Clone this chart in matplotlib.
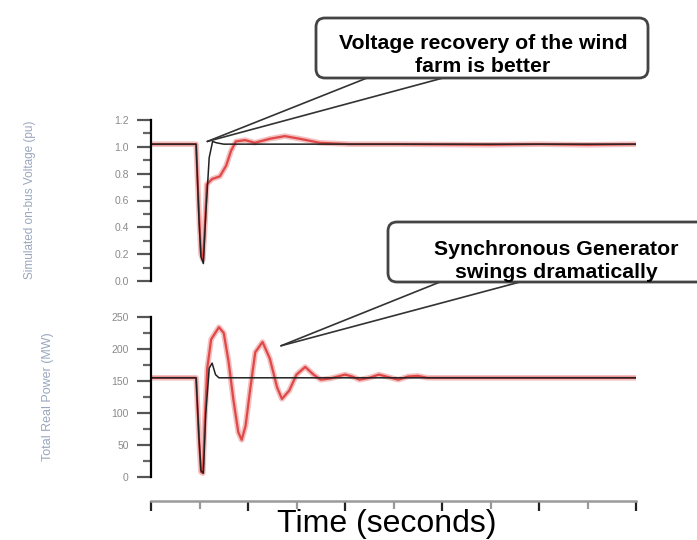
import matplotlib.pyplot as plt
from matplotlib.patches import FancyBboxPatch
from matplotlib.ticker import MultipleLocator

plt.rcParams['font.family'] = ['Liberation Sans', 'DejaVu Sans']

# time axis (seconds), fault at ~1 s
t_v_red = [0, 0.93, 0.99, 1.03, 1.07, 1.11, 1.15, 1.26, 1.42, 1.55, 1.65, 1.75, 1.94, 2.14,
           2.45, 2.76, 3.07, 3.48, 4.1, 5, 7, 8, 9, 10]
v_red = [1.02, 1.02, 0.5, 0.2, 0.16, 0.4, 0.72, 0.76, 0.78, 0.86, 0.97, 1.04, 1.05, 1.03,
         1.06, 1.08, 1.06, 1.03, 1.02, 1.02, 1.015, 1.02, 1.015, 1.02]

t_v_blk = [0, 0.93, 0.99, 1.03, 1.08, 1.13, 1.2, 1.27, 1.35, 1.5, 10]
v_blk = [1.02, 1.02, 0.45, 0.18, 0.13, 0.5, 0.92, 1.04, 1.03, 1.02, 1.02]

t_p_red = [0, 0.93, 0.99, 1.03, 1.07, 1.11, 1.16, 1.24, 1.4, 1.5, 1.6, 1.7, 1.8, 1.87, 1.95,
           2.05, 2.15, 2.3, 2.45, 2.6, 2.7, 2.85, 3.0, 3.18, 3.35, 3.5, 3.7, 3.9, 4.0, 4.15,
           4.3, 4.5, 4.7, 4.9, 5.1, 5.3, 5.5, 5.7, 6.0, 10]
p_red = [155, 155, 60, 8, 6, 90, 170, 215, 234, 225, 180, 120, 70, 58, 80,
         140, 195, 211, 185, 140, 122, 135, 160, 172, 160, 152, 154, 158, 160, 157,
         152, 155, 160, 156, 152, 157, 158, 155, 155, 155]

t_p_blk = [0, 0.93, 0.99, 1.03, 1.08, 1.13, 1.2, 1.26, 1.33, 1.4, 10]
p_blk = [155, 155, 60, 10, 6, 100, 170, 178, 160, 155, 155]

v_ticks = [0.0, 0.2, 0.4, 0.6, 0.8, 1.0, 1.2]
p_ticks = [0, 50, 100, 150, 200, 250]

W, H = 697, 540
fig = plt.figure(figsize=(W / 100, H / 100), dpi=100)

def px(x0, y_top, x1, y_bot):
    return [x0 / W, 1 - y_bot / H, (x1 - x0) / W, (y_bot - y_top) / H]

red = '#e04848'
lab_col = '#8a8a8a'

ax1 = fig.add_axes(px(151, 120, 636, 281))
ax2 = fig.add_axes(px(151, 317, 636, 477))

for ax in (ax1, ax2):
    ax.set_xlim(0, 10)
    for s in ('top', 'right'):
        ax.spines[s].set_visible(False)
    ax.spines['left'].set_linewidth(1.6)
    ax.tick_params(axis='y', which='major', length=10, width=1.6, color='#555',
                   labelsize=7.5, labelcolor=lab_col, pad=6)
    ax.tick_params(axis='y', which='minor', length=6, width=1.6, color='#666')

ax1.plot(t_v_red, v_red, color=red, lw=4, alpha=0.35)
ax1.plot(t_v_red, v_red, color=red, lw=1.6)
ax1.plot(t_v_blk, v_blk, color='#222', lw=1.1)
ax1.set_ylim(0, 1.2)
ax1.set_yticks(v_ticks)
ax1.set_yticklabels([f'{v:.1f}' for v in v_ticks])
ax1.yaxis.set_minor_locator(MultipleLocator(0.1))
ax1.spines['bottom'].set_visible(False)
ax1.set_xticks([])

ax2.plot(t_p_red, p_red, color=red, lw=4, alpha=0.35)
ax2.plot(t_p_red, p_red, color=red, lw=1.6)
ax2.plot(t_p_blk, p_blk, color='#222', lw=1.1)
ax2.set_ylim(0, 250)
ax2.set_yticks(p_ticks)
ax2.set_yticklabels([str(v) for v in p_ticks])
ax2.yaxis.set_minor_locator(MultipleLocator(25))
ax2.spines['bottom'].set_position(('outward', 17))
ax2.spines['bottom'].set_color('#9a9a9a')
ax2.spines['bottom'].set_linewidth(1.8)
ax2.set_xticks(range(0, 11, 2))
ax2.xaxis.set_minor_locator(MultipleLocator(1))
ax2.tick_params(axis='x', which='major', length=7, width=1.6, color='#222', labelbottom=False)
ax2.tick_params(axis='x', which='minor', length=6, width=1.6, color='#999')

ylab_col = '#9aa6bd'
fig.text(30 / W, 1 - 200 / H, 'Simulated on-bus Voltage (pu)', fontsize=8.5,
         color=ylab_col, rotation=90, ha='center', va='center')
fig.text(48 / W, 1 - 397 / H, 'Total Real Power (MW)', fontsize=9,
         color=ylab_col, rotation=90, ha='center', va='center')

fig.text(387 / W, 1 - 524 / H, 'Time (seconds)', fontsize=23, ha='center', va='center')

# callouts
def wedge(ax, tip, base_pts):
    for bx, by in base_pts:
        ax.annotate('', xy=tip, xycoords='data', xytext=(bx, H - by),
                    textcoords='figure pixels',
                    arrowprops=dict(arrowstyle='-', color='#333', lw=1.2,
                                    shrinkA=0, shrinkB=0))

wedge(ax1, (1.16, 1.04), [(367, 78), (443, 78)])
wedge(ax2, (2.68, 205), [(440, 282), (520, 282)])

ov = fig.add_axes([0, 0, 1, 1], zorder=5)
ov.set_xlim(0, W)
ov.set_ylim(H, 0)
ov.axis('off')
ov.patch.set_alpha(0)

for (x0, y0, x1, y1) in [(316, 18, 648, 78), (388, 222, 715, 282)]:
    ov.add_patch(FancyBboxPatch((x0, y0), x1 - x0, y1 - y0,
                                boxstyle='round,pad=0,rounding_size=9',
                                fc='white', ec='#444', lw=2, clip_on=False))

ov.text(483, 55, 'Voltage recovery of the wind\nfarm is better', fontsize=15.3,
        fontweight='bold', ha='center', va='center', linespacing=1.3)
ov.text(556, 261, 'Synchronous Generator\nswings dramatically', fontsize=15.3,
        fontweight='bold', ha='center', va='center', linespacing=1.3)

fig.savefig('out.png', dpi=100)
